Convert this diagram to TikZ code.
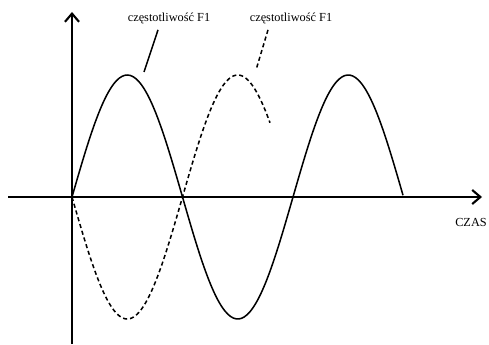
\documentclass[tikz,border=0pt]{standalone}
\usepackage{fontspec}
\setmainfont{Liberation Serif}
\usetikzlibrary{positioning,arrows.meta}

\begin{document}
\begin{tikzpicture}[x=0.03cm,y=-0.03cm,
    os/.style={line width=1.7pt,-{Straight Barb[length=7pt,width=12pt,line width=1.8pt]}},
    fala/.style={line width=1.3pt,smooth,samples=120},
    kreski/.style={dash pattern=on 3.5pt off 2.5pt},
    opis/.style={font=\fontsize{10.5}{12}\selectfont,inner sep=1pt}]

\useasboundingbox (0,0) rectangle (489,344);

% osie
\coordinate (o) at (72,197);
\coordinate (dol) at (72,344);
\coordinate (gora) at (72,12);
\coordinate (lewo) at (8,197);
\coordinate (prawo) at (482,197);
\draw[os] (dol) -- (gora);
\draw[os] (lewo) -- (prawo);
\node[opis] (czas) at (471,222) {CZAS};

% przebiegi
\draw[fala] plot[domain=72:403] (\x,{197-122*sin((\x-72)/221*360)});
\draw[fala,kreski] plot[domain=72:270] (\x,{197+122*sin((\x-72)/221*360)});

% opisy
\node[opis] (f1) at (169,18) {częstotliwość F1};
\node[opis] (f2) at (291,18) {częstotliwość F1};
\coordinate (k1) at (144,72);
\coordinate (k2) at (256,70);
\draw[line width=1.3pt] (f1.south -| 158,0) ++(0,5) -- (k1);
\draw[line width=1.3pt,kreski] (f2.south -| 268,0) ++(0,5) -- (k2);

\end{tikzpicture}
\end{document}
